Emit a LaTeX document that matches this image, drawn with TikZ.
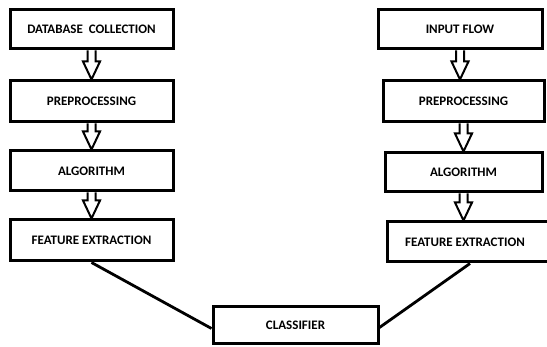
\documentclass[tikz,border=0pt]{standalone}
\usepackage{fontspec}
\setmainfont{Carlito}
\usetikzlibrary{calc}
\tikzset{
  box/.style={draw, line width=3pt, inner sep=0pt, font=\bfseries\fontsize{13}{15}\selectfont},
  link/.style={line width=2.8pt},
  harrowline/.style={line width=2pt, line join=miter}
}
\newcommand\harrow[2]{%
  \draw[harrowline] let \p1=(#1.south), \p2=(#2.north) in
    (\x1-4pt,\y1) -- (\x1-4pt,\y2+18pt) -- (\x1-8.5pt,\y2+18pt) -- (\x1,\y2)
    -- (\x1+8.5pt,\y2+18pt) -- (\x1+4pt,\y2+18pt) -- (\x1+4pt,\y1);}
\begin{document}
\begin{tikzpicture}[x=1pt,y=-1pt]
\useasboundingbox (0,0) rectangle (547,347);
% left column
\node[box, minimum width=163pt, minimum height=39pt] (ldb) at (91.5,29.5) {DATABASE\ \ COLLECTION};
\node[box, minimum width=163pt, minimum height=41pt] (lpre) at (91.5,101.5) {PREPROCESSING};
\node[box, minimum width=163pt, minimum height=40pt] (lalg) at (91.5,171) {ALGORITHM};
\node[box, minimum width=163pt, minimum height=41pt] (lfe) at (91.5,240.5) {FEATURE EXTRACTION};
% right column
\node[box, minimum width=164pt, minimum height=39pt] (rin) at (460,29.5) {INPUT FLOW};
\node[box, minimum width=161pt, minimum height=41pt] (rpre) at (463.5,101.5) {PREPROCESSING};
\node[box, minimum width=157pt, minimum height=39pt] (ralg) at (463.5,172.5) {ALGORITHM};
\node[box, minimum width=166pt, minimum height=40pt] (rfe) at (470,242) {\hspace*{-10pt}FEATURE EXTRACTION};
% classifier
\node[box, minimum width=165pt, minimum height=37pt] (cls) at (295.5,325.5) {CLASSIFIER};
% hollow arrows
\harrow{ldb}{lpre}
\harrow{lpre}{lalg}
\harrow{lalg}{lfe}
\harrow{rin}{rpre}
\harrow{rpre}{ralg}
\harrow{ralg}{rfe}
% connectors
\draw[link] (lfe.south) -- ($(cls.west)+(0,3)$);
\draw[link] (rfe.south) -- ($(cls.east)+(0,2)$);
\end{tikzpicture}
\end{document}
